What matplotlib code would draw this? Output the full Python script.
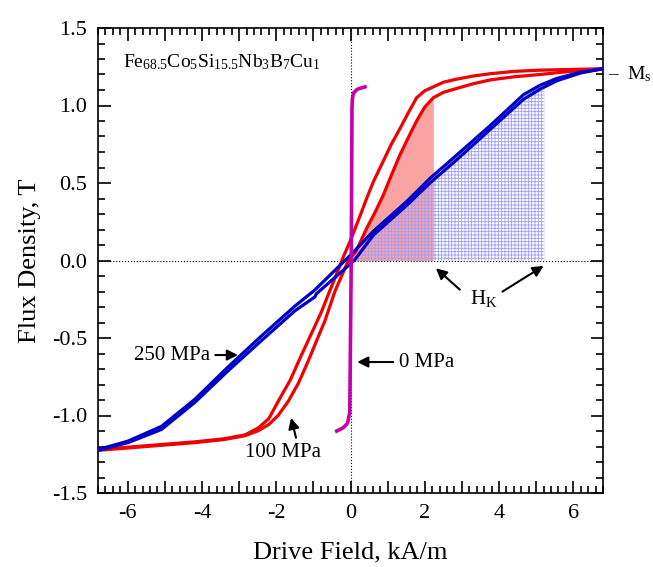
#!/usr/bin/env python3
"""B-H loops of Fe68.5Co5Si15.5Nb3B7Cu1 under 0, 100 and 250 MPa stress."""

import numpy as np
import matplotlib
matplotlib.use('Agg')
import matplotlib.pyplot as plt
from matplotlib.ticker import MultipleLocator, FuncFormatter

plt.rcParams['font.family'] = ['Liberation Serif', 'DejaVu Serif']
plt.rcParams['mathtext.fontset'] = 'custom'
plt.rcParams['mathtext.rm'] = 'Liberation Serif'
plt.rcParams['mathtext.it'] = 'Liberation Serif:italic'
plt.rcParams['hatch.linewidth'] = 0.6

# 100 MPa loop (red)
red_up_h = [6.8, 6.0, 5.1, 4.4, 3.76, 3.3, 2.86, 2.5, 2.23, 2.0, 1.78, 1.55,
            1.33, 1.1, 0.88, 0.62, 0.45, 0.26, 0.0, -0.2, -0.42, -0.6, -0.78,
            -1.05, -1.32, -1.62, -1.95, -2.2, -2.48, -2.84, -3.4, -4.19,
            -5.5, -6.8]
red_up_b = [1.237, 1.233, 1.228, 1.22, 1.205, 1.19, 1.17, 1.15, 1.12, 1.095,
            1.05, 0.95, 0.85, 0.75, 0.64, 0.51, 0.41, 0.29, 0.13, 0.02,
            -0.115, -0.22, -0.33, -0.47, -0.61, -0.77, -0.91, -1.02, -1.08,
            -1.125, -1.15, -1.17, -1.195, -1.22]
red_lo_h = [-6.8, -5.5, -4.19, -3.4, -2.84, -2.5, -2.21, -1.95, -1.68, -1.4,
            -1.14, -0.9, -0.69, -0.42, -0.06, 0.15, 0.44, 0.66, 0.88, 1.1,
            1.33, 1.55, 1.78, 2.0, 2.23, 2.5, 2.86, 3.3, 3.76, 4.4, 5.1,
            6.0, 6.8]
red_lo_b = [-1.225, -1.2, -1.175, -1.155, -1.13, -1.1, -1.06, -1.0, -0.91,
            -0.79, -0.65, -0.51, -0.39, -0.2, 0.0, 0.06, 0.21, 0.31, 0.42,
            0.55, 0.68, 0.79, 0.90, 0.99, 1.05, 1.085, 1.11, 1.14, 1.165,
            1.185, 1.20, 1.222, 1.237]

# 250 MPa loop (blue)
blue_up_h = [6.8, 6.2, 5.56, 5.1, 4.66, 3.76, 2.86, 2.14, 1.51, 0.62, 0.0,
             -0.96, -1.5, -2.39, -3.29, -4.19, -5.09, -5.99, -6.8]
blue_up_b = [1.237, 1.215, 1.175, 1.13, 1.07, 0.87, 0.68, 0.53, 0.38, 0.19,
             0.035, -0.19, -0.295, -0.485, -0.685, -0.895, -1.07, -1.165,
             -1.22]
blue_lo_h = [-6.8, -5.99, -5.09, -4.19, -3.29, -2.39, -1.5, -0.96, -0.92,
             0.1, 0.62, 1.51, 2.14, 2.86, 3.76, 4.66, 5.1, 5.56, 6.2, 6.8]
blue_lo_b = [-1.225, -1.175, -1.09, -0.915, -0.71, -0.515, -0.325, -0.235,
             -0.215, 0.0, 0.165, 0.355, 0.50, 0.65, 0.845, 1.04, 1.105,
             1.16, 1.21, 1.237]

# 0 MPa loop (magenta)
mag_h = [-0.37, -0.2, -0.08, -0.02, 0.02, 0.04, 0.05, 0.08, 0.18, 0.39]
mag_b = [-1.10, -1.08, -1.05, -0.98, 0.0, 0.98, 1.04, 1.08, 1.105, 1.12]

# anisotropy field H_K for each loop
hk_100 = 2.23
hk_250 = 5.22

fig = plt.figure(figsize=(6.53, 5.67), dpi=100)
ax = fig.add_axes([98 / 653, 1 - 493 / 567, 505 / 653, 465 / 567])

# shaded areas up to H_K
h = np.linspace(0, hk_100, 200)
ax.fill_between(h, 0, np.interp(h, red_lo_h, red_lo_b),
                color='#f9a3a3', lw=0, zorder=1)
h = np.linspace(0, hk_250, 400)
ax.fill_between(h, 0, np.interp(h, blue_lo_h, blue_lo_b),
                facecolor='none', edgecolor='#9d9dff', hatch='+++++',
                lw=0, zorder=1.5)

ax.axhline(0, color='k', lw=0.8, ls=':', zorder=2)
ax.axvline(0, color='k', lw=0.8, ls=':', zorder=2)

ax.plot(red_up_h, red_up_b, color='#f00000', lw=2.3, zorder=3)
ax.plot(red_lo_h, red_lo_b, color='#f00000', lw=2.3, zorder=3)
ax.plot(blue_up_h, blue_up_b, color='#0000c8', lw=2.3, zorder=4)
ax.plot(blue_lo_h, blue_lo_b, color='#0000c8', lw=2.3, zorder=4)
ax.plot(mag_h, mag_b, color='#c400b0', lw=2.6, zorder=5)

ax.set_xlim(-6.8, 6.8)
ax.set_ylim(-1.5, 1.5)
ax.xaxis.set_major_locator(MultipleLocator(1))
ax.xaxis.set_minor_locator(MultipleLocator(0.2))
ax.xaxis.set_major_formatter(FuncFormatter(
    lambda v, p: '%d' % round(v) if round(v) % 2 == 0 else ''))
ax.yaxis.set_major_locator(MultipleLocator(0.5))
ax.yaxis.set_minor_locator(MultipleLocator(0.1))
ax.yaxis.set_major_formatter(FuncFormatter(lambda v, p: '%.1f' % v))
ax.tick_params(which='both', direction='in', top=True, right=True,
               labelsize=16, width=1.2)
ax.tick_params(which='major', length=9, pad=8)
ax.tick_params(which='minor', length=5)
for s in ax.spines.values():
    s.set_linewidth(1.2)

ax.set_xlabel('Drive Field, kA/m', fontsize=19, labelpad=13)
ax.set_ylabel('Flux Density, T', fontsize=19, labelpad=8)

ax.text(-6.13, 1.28, r'Fe$_{68.5}$Co$_5$Si$_{15.5}$Nb$_3$B$_7$Cu$_1$',
        fontsize=14, va='center', ha='left')

arrow = dict(arrowstyle='-|>', color='k', lw=1.5, mutation_scale=16,
             shrinkA=2, shrinkB=0)
ax.annotate('250 MPa', xy=(-3.03, -0.61), xytext=(-3.79, -0.61),
            ha='right', va='center', fontsize=15, arrowprops=arrow)
ax.annotate('0 MPa', xy=(0.18, -0.655), xytext=(1.3, -0.655),
            ha='left', va='center', fontsize=15, arrowprops=arrow)
ax.annotate('100 MPa', xy=(-1.6, -1.015), xytext=(-1.82, -1.24),
            ha='center', va='center', fontsize=15,
            arrowprops=dict(arrow, relpos=(0.69, 1.0)))
ax.text(3.58, -0.245, r'H$_\mathrm{K}$', fontsize=15, ha='center', va='center')
ax.annotate('', xy=(2.3, -0.05), xytext=(3.0, -0.2), arrowprops=arrow)
ax.annotate('', xy=(5.2, -0.035), xytext=(4.03, -0.21), arrowprops=arrow)

ax.text(6.95, 1.2, '–', fontsize=14, ha='left', va='center', clip_on=False)
ax.text(7.45, 1.2, r'M$_\mathrm{s}$', fontsize=14, ha='left', va='center',
        clip_on=False)

fig.savefig('out.png', dpi=100)
